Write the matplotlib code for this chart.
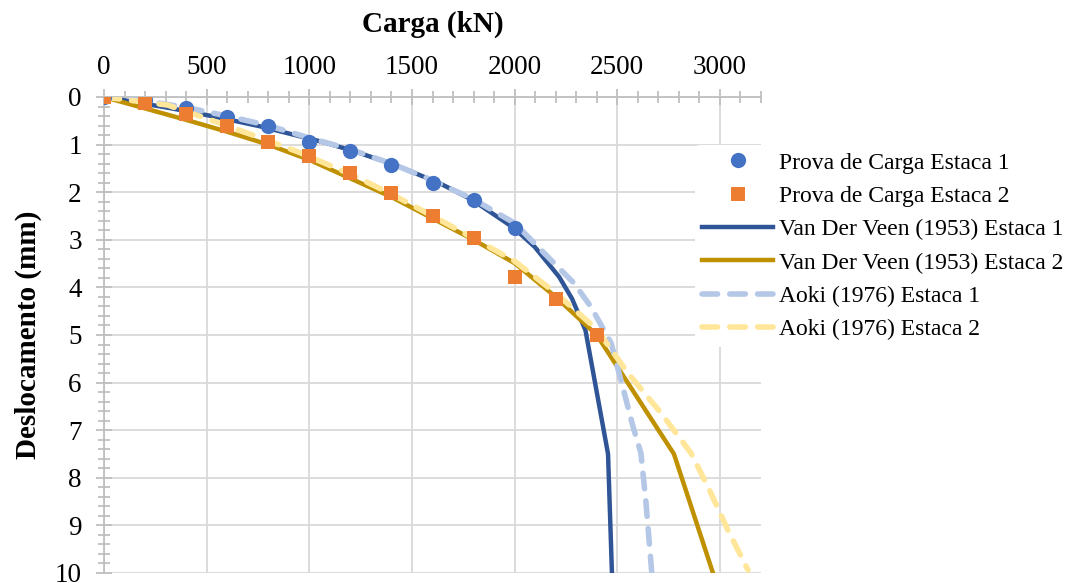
import matplotlib
matplotlib.use("Agg")
import matplotlib.pyplot as plt
from matplotlib.ticker import MultipleLocator

plt.rcParams['font.family'] = ['Liberation Serif', 'DejaVu Serif']

# Measured load test points
prova1_carga = [0, 200, 400, 600, 800, 1000, 1200, 1400, 1600, 1800, 2000]
prova1_desl = [0, 0.06, 0.24, 0.42, 0.61, 0.94, 1.13, 1.43, 1.81, 2.16, 2.75]
prova2_carga = [0, 200, 400, 600, 800, 1000, 1200, 1400, 1600, 1800, 2000, 2200, 2400]
prova2_desl = [0, 0.12, 0.36, 0.61, 0.94, 1.24, 1.60, 2.02, 2.50, 2.96, 3.78, 4.24, 5.00]

# Van Der Veen (1953)
vdv1_carga = [0, 87, 330, 548, 754, 1061, 1212, 1419, 1634, 1793, 1996, 2098, 2217, 2280, 2345, 2455, 2474]
vdv1_desl = [0, 0.06, 0.24, 0.42, 0.61, 0.94, 1.13, 1.43, 1.81, 2.16, 2.75, 3.15, 3.78, 4.24, 4.90, 7.50, 10.0]
vdv2_carga = [0, 200, 400, 600, 800, 1000, 1200, 1400, 1600, 1800, 2000, 2200, 2400, 2776, 2966]
vdv2_desl = [0, 0.24, 0.48, 0.73, 1.00, 1.32, 1.71, 2.10, 2.55, 3.00, 3.49, 4.20, 5.00, 7.50, 10.0]

# Aoki (1976)
aoki1_carga = [0, 200, 400, 600, 800, 1000, 1200, 1400, 1600, 1800, 2000, 2080, 2192, 2289, 2372,
               2470, 2518, 2577, 2615, 2640, 2668]
aoki1_desl = [0, 0.08, 0.22, 0.40, 0.60, 0.86, 1.10, 1.40, 1.75, 2.15, 2.65, 3.00, 3.49, 3.91, 4.41,
              5.17, 5.95, 6.93, 7.48, 8.53, 10.0]
aoki2_carga = [0, 310, 472, 700, 943, 1200, 1400, 1600, 1800, 2000, 2200, 2400, 2552, 2713, 2859,
               2942, 3039, 3137]
aoki2_desl = [0, 0.17, 0.41, 0.76, 1.15, 1.62, 2.04, 2.50, 2.97, 3.45, 4.12, 4.88, 5.80, 6.64, 7.48,
              8.19, 9.10, 9.94]

labels = ["Prova de Carga Estaca 1", "Prova de Carga Estaca 2",
          "Van Der Veen (1953) Estaca 1", "Van Der Veen (1953) Estaca 2",
          "Aoki (1976) Estaca 1", "Aoki (1976) Estaca 2"]

fig = plt.figure(figsize=(10.74, 5.83), dpi=100)
ax = fig.add_axes([104 / 1074, 1 - 573 / 583, (761 - 104) / 1074, (573 - 97) / 583])

grid_c = '#D9D9D9'
axis_c = '#BFBFBF'

l3, = ax.plot(vdv1_carga, vdv1_desl, color='#2F5597', lw=3.2, zorder=3, label=labels[2])
l4, = ax.plot(vdv2_carga, vdv2_desl, color='#BF9000', lw=3.2, zorder=3, label=labels[3])
l5, = ax.plot(aoki1_carga, aoki1_desl, color='#B4C7E7', lw=4.0, ls=(0, (2.8, 2.2)),
              dash_capstyle='round', zorder=4, label=labels[4])
l6, = ax.plot(aoki2_carga, aoki2_desl, color='#FFE699', lw=4.0, ls=(0, (2.8, 2.2)),
              dash_capstyle='round', zorder=4, label=labels[5])
l1, = ax.plot(prova1_carga, prova1_desl, 'o', color='#4472C4', ms=11, mew=0, zorder=5, label=labels[0])
l2, = ax.plot(prova2_carga, prova2_desl, 's', color='#ED7D31', ms=10.5, mew=0, zorder=6, label=labels[1])

ax.set_xlim(0, 3200)
ax.set_ylim(10, 0)

ax.xaxis.set_major_locator(MultipleLocator(500))
ax.xaxis.set_minor_locator(MultipleLocator(100))
ax.yaxis.set_major_locator(MultipleLocator(1))
ax.yaxis.set_minor_locator(MultipleLocator(0.2))

ax.xaxis.tick_top()
ax.xaxis.set_label_position('top')
for s in ['right', 'bottom']:
    ax.spines[s].set_visible(False)
for s in ['top', 'left']:
    ax.spines[s].set_color(axis_c)
    ax.spines[s].set_linewidth(1.3)
    ax.spines[s].set_zorder(2)

ax.tick_params(which='major', direction='inout', length=12, width=1.3, color=axis_c,
               labelsize=19.5, labelcolor='black')
ax.tick_params(which='minor', direction='inout', length=8, width=1.3, color=axis_c)
ax.tick_params(axis='x', which='both', top=True, bottom=False, pad=6)
ax.tick_params(axis='y', which='both', pad=10)

ax.grid(True, which='major', color=grid_c, lw=1.3, zorder=0)
ax.set_axisbelow(True)

ax.set_xlabel('Carga (kN)', fontsize=21, fontweight='bold', labelpad=17)
ax.set_ylabel('Deslocamento (mm)', fontsize=21, fontweight='bold', labelpad=9)

leg = fig.legend(handles=[l1, l2, l3, l4, l5, l6], labels=labels,
                 loc='upper left', bbox_to_anchor=(695 / 1074, 1 - 145 / 583),
                 frameon=True, fontsize=17, handlelength=3.0, handletextpad=0.25,
                 labelspacing=0.5, borderpad=0.3, borderaxespad=0)
leg.get_frame().set_facecolor('white')
leg.get_frame().set_edgecolor('none')
leg.get_frame().set_alpha(1)
leg.set_zorder(10)

fig.savefig('out.png', dpi=100)
